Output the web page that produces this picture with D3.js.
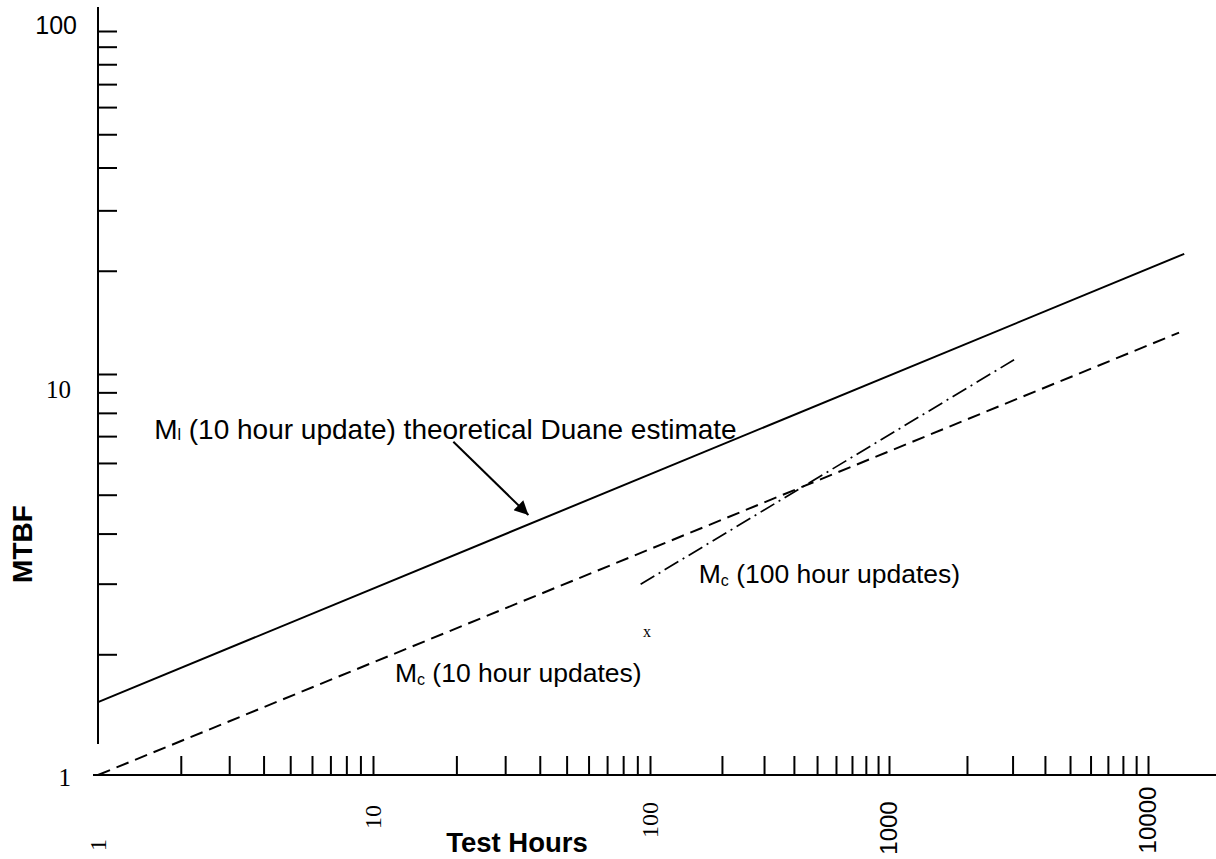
<!DOCTYPE html>
<html><head><meta charset="utf-8">
<script src="https://cdn.jsdelivr.net/npm/d3@7"></script>
<style>body{margin:0;background:#fff}svg{display:block}</style>
</head><body>
<svg id="chart" width="1216" height="859"></svg>
<script>
// ---- data ----
const xDecades = [1, 10, 100, 1000, 10000];
const yDecades = [1, 10, 100];
const xTickValues = [2,3,4,5,6,7,8,9,10, 20,30,40,50,60,70,80,90,100, 200,300,400,500,600,700,800,900,1000, 2000,3000,4000,5000,6000,7000,8000,9000,10000];
const yTickValues = [2,3,4,5,6,7,8,9,10, 20,30,40,50,60,70,80,90,100];
const xTickLabels = ["1", "10", "100", "1000", "10000"];
const yTickLabels = ["1", "10", "100"];

const solidHours = [1, 13800];
const solidMTBF = [1.52, 22.4];
const dashHours = [1, 13180];
const dashMTBF = [1, 13.2];
const dashDotHours = [92.5, 3040];
const dashDotMTBF = [2.99, 11.0];

const annotTexts = ["l|(10 hour update) theoretical Duane estimate", "c|(100 hour updates)", "c|(10 hour updates)"];
const annotHours = [1.6, 160, 12.0];
const annotMTBF = [6.87, 3.02, 1.71];
const arrowHours = [19.5, 36.4];
const arrowMTBF = [6.78, 4.45];
const markHours = [97.5];
const markMTBF = [2.21];

// ---- layout ----
const svg = d3.select("#chart");
const xRange = [98, 373, 650, 889, 1148];
const yRange = [775, 374, 31];
const x = d3.scaleLog().domain(xDecades).range(xRange);
const y = d3.scaleLog().domain(yDecades).range(yRange);
const sans = "'Liberation Sans', Arial, sans-serif";
const serif = "'Liberation Serif', 'Times New Roman', serif";

// arrow marker
svg.append("defs").append("marker")
  .attr("id", "arrowhead").attr("viewBox", "0 0 10 10")
  .attr("refX", 10).attr("refY", 5)
  .attr("markerWidth", 8).attr("markerHeight", 7)
  .attr("markerUnits", "strokeWidth").attr("orient", "auto")
  .append("path").attr("d", "M0,0 L10,5 L0,10 Z").attr("fill", "#000");

// x axis
const xAxisG = svg.append("g").attr("transform", `translate(0,${y(1)})`)
  .call(d3.axisTop(x).tickValues(xTickValues).tickSize(19).tickFormat(""));
xAxisG.select(".domain").remove();
xAxisG.selectAll(".tick line").attr("stroke", "#000").attr("stroke-width", 2);
svg.append("line").attr("x1", x(1) - 5).attr("x2", 1216)
  .attr("y1", y(1)).attr("y2", y(1)).attr("stroke", "#000").attr("stroke-width", 2);

// y axis
const yAxisG = svg.append("g").attr("transform", `translate(${x(1)},0)`)
  .call(d3.axisRight(y).tickValues(yTickValues).tickSize(19).tickFormat(""));
yAxisG.select(".domain").remove();
yAxisG.selectAll(".tick line").attr("stroke", "#000").attr("stroke-width", 2);
svg.append("line").attr("x1", x(1)).attr("x2", x(1))
  .attr("y1", y(100) - 24).attr("y2", y(1) - 31).attr("stroke", "#000").attr("stroke-width", 2);

// tick labels
const xLabelShift = {1: 23, 10: -5, 100: -2, 1000: 6, 10000: -2};
svg.append("g").selectAll("text").data(xDecades).join("text")
  .attr("transform", d => `translate(${x(d)},${822 + xLabelShift[d]}) rotate(-90)`)
  .attr("text-anchor", "middle").attr("dy", "0.35em")
  .attr("font-family", d => d >= 1000 ? sans : serif)
  .attr("font-size", 24)
  .text((d, i) => xTickLabels[i]);

const yLabelShift = {1: 2, 10: 15, 100: -6};
svg.append("g").selectAll("text").data(yDecades).join("text")
  .attr("x", d => d >= 100 ? 77 : 71)
  .attr("y", d => y(d) + yLabelShift[d])
  .attr("text-anchor", "end").attr("dy", "0.35em")
  .attr("font-family", d => d >= 100 ? sans : serif)
  .attr("font-size", 25)
  .text((d, i) => yTickLabels[i]);

// axis titles
svg.append("text").attr("x", 517).attr("y", 852)
  .attr("text-anchor", "middle").attr("font-family", sans)
  .attr("font-weight", "bold").attr("font-size", 27.5).text("Test Hours");
svg.append("text").attr("transform", "translate(32,544) rotate(-90)")
  .attr("text-anchor", "middle").attr("font-family", sans)
  .attr("font-weight", "bold").attr("font-size", 28).text("MTBF");

// lines
const line = d3.line().x(d => x(d[0])).y(d => y(d[1]));
function series(hrs, vals) { return hrs.map((h, i) => [h, vals[i]]); }
svg.append("path").datum(series(solidHours, solidMTBF)).attr("d", line)
  .attr("fill", "none").attr("stroke", "#000").attr("stroke-width", 2);
svg.append("path").datum(series(dashHours, dashMTBF)).attr("d", line)
  .attr("fill", "none").attr("stroke", "#000").attr("stroke-width", 2)
  .attr("stroke-dasharray", "13,7");
svg.append("path").datum(series(dashDotHours, dashDotMTBF)).attr("d", line)
  .attr("fill", "none").attr("stroke", "#000").attr("stroke-width", 1.7)
  .attr("stroke-dasharray", "16,5,2,5");

// annotations
const annotSize = [28, 26.5, 26.5];
annotTexts.forEach((t, i) => {
  const [sub, rest] = t.split("|");
  const txt = svg.append("text").attr("x", x(annotHours[i])).attr("y", y(annotMTBF[i]))
    .attr("font-family", sans).attr("font-size", annotSize[i]);
  txt.append("tspan").text("M");
  txt.append("tspan").attr("font-size", 16).attr("dy", i === 0 ? 1 : 3).text(sub);
  txt.append("tspan").attr("dy", i === 0 ? -1 : -3).text(" " + rest);
});

svg.append("line")
  .attr("x1", x(arrowHours[0])).attr("y1", y(arrowMTBF[0]))
  .attr("x2", x(arrowHours[1])).attr("y2", y(arrowMTBF[1]))
  .attr("stroke", "#000").attr("stroke-width", 2)
  .attr("marker-end", "url(#arrowhead)");

svg.append("g").selectAll("text").data(markHours).join("text")
  .attr("x", d => x(d)).attr("y", (d, i) => y(markMTBF[i]))
  .attr("text-anchor", "middle").attr("font-family", serif)
  .attr("font-size", 16).text("x");
</script>
</body></html>
